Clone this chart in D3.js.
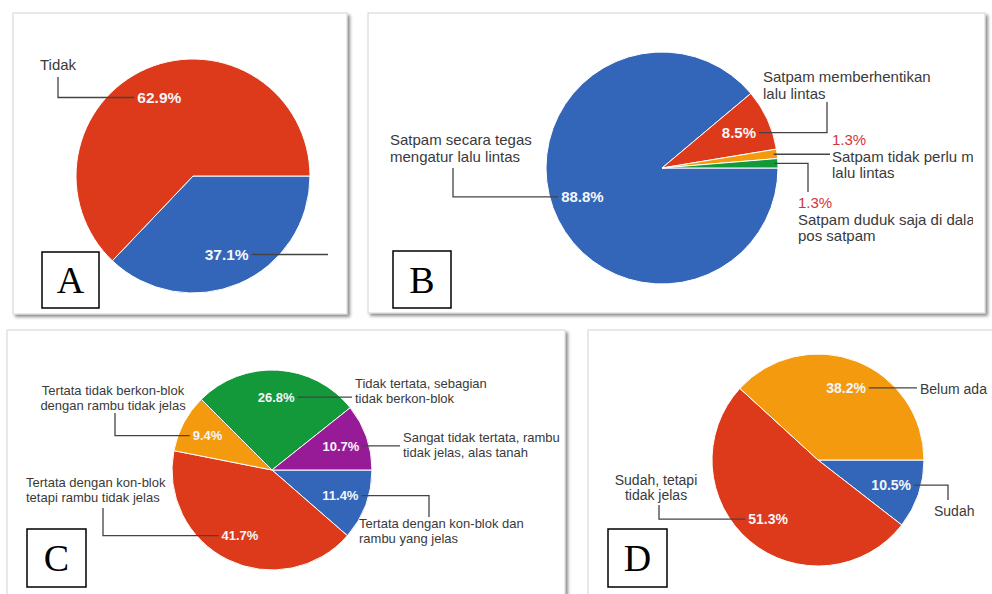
<!DOCTYPE html>
<html>
<head>
<meta charset="utf-8">
<script src="https://cdn.jsdelivr.net/npm/d3@7"></script>
<style>
  body { margin: 0; background: #fff; }
  svg text { font-family: "Liberation Sans", Arial, sans-serif; }
</style>
</head>
<body>
<svg id="chart" width="992" height="594"></svg>
<script>
// ---- Data -------------------------------------------------------------
// A
const aCategories = ["Ya", "Tidak"];
const aValues = [37.1, 62.9];
const aLabelLines = [[], ["Tidak"]];

// B
const bCategories = [
  "Satpam secara tegas mengatur lalu lintas",
  "Satpam memberhentikan lalu lintas",
  "Satpam tidak perlu mengatur lalu lintas",
  "Satpam duduk saja di dalam pos satpam"
];
const bValues = [88.8, 8.5, 1.3, 1.3];
const bLabelLines = [
  ["Satpam secara tegas", "mengatur lalu lintas"],
  ["Satpam memberhentikan", "lalu lintas"],
  ["Satpam tidak perlu mengatur", "lalu lintas"],
  ["Satpam duduk saja di dalam", "pos satpam"]
];

// C
const cCategories = [
  "Tertata dengan kon-blok dan rambu yang jelas",
  "Tertata dengan kon-blok tetapi rambu tidak jelas",
  "Tertata tidak berkon-blok dengan rambu tidak jelas",
  "Tidak tertata, sebagian tidak berkon-blok",
  "Sangat tidak tertata, rambu tidak jelas, alas tanah"
];
const cValues = [11.4, 41.7, 9.4, 26.8, 10.7];
const cLabelLines = [
  ["Tertata dengan kon-blok dan", "rambu yang jelas"],
  ["Tertata dengan kon-blok", "tetapi rambu tidak jelas"],
  ["Tertata tidak berkon-blok", "dengan rambu tidak jelas"],
  ["Tidak tertata, sebagian", "tidak berkon-blok"],
  ["Sangat tidak tertata, rambu", "tidak jelas, alas tanah"]
];

// D
const dCategories = ["Sudah", "Sudah, tetapi tidak jelas", "Belum ada"];
const dValues = [10.5, 51.3, 38.2];
const dLabelLines = [["Sudah"], ["Sudah, tetapi", "tidak jelas"], ["Belum ada"]];

// ---- Styles & layout --------------------------------------------------
const palette = {
  blue: "#3366b8",
  red: "#dc3a1a",
  orange: "#f39a0e",
  green: "#13983a",
  purple: "#971b97"
};
const textColor = "#3a3a3a";
const smallPctColor = "#d2353a";

const panels = [
  {
    id: "A", values: aValues, lines: aLabelLines, colors: ["blue", "red"],
    frame: [13, 13, 334, 301], center: [193, 176], r: 117,
    box: [42, 252, 57, 56], pctSize: 15.5, labelSize: 15, lineGap: 17,
    leaders: [
      { x: 135 },
      { x: -135, y: -99, tx: -153, ty: -106 }
    ]
  },
  {
    id: "B", values: bValues, lines: bLabelLines, colors: ["blue", "red", "orange", "green"],
    frame: [368, 13, 617, 300], center: [662, 168], r: 116, clipRight: 973,
    box: [393, 251, 58, 57], pctSize: 15, labelSize: 15, lineGap: 16.5,
    leaders: [
      { x: -209, y: 0, tx: -272, ty: -23 },
      { x: 165, y: -66, tx: 101, ty: -86 },
      { outside: true, x: 168, tx: 170, ty: -23 },
      { outside: true, x: 146, y: 24, tx: 136, ty: 40 }
    ]
  },
  {
    id: "C", values: cValues, lines: cLabelLines, colors: ["blue", "red", "orange", "green", "purple"],
    frame: [7, 330, 558, 280], center: [272, 470], r: 100,
    box: [27, 529, 59, 58], pctSize: 13, labelSize: 13, lineGap: 14.5,
    leaders: [
      { x: 157, y: 47, tx: 87, ty: 58 },
      { x: -169, y: 38, tx: -246, ty: 17 },
      { x: -157, y: -57, tx: -159, ty: -75, anchor: "middle" },
      { x: 80, tx: 83, ty: -82 },
      { x: 128, tx: 131, ty: -28 }
    ]
  },
  {
    id: "D", values: dValues, lines: dLabelLines, colors: ["blue", "red", "orange"],
    frame: [588, 330, 420, 280], center: [818, 460], r: 106,
    box: [608, 529, 59, 58], pctSize: 14, labelSize: 14, lineGap: 15,
    leaders: [
      { x: 130, y: 40, tx: 116, ty: 56 },
      { x: -159, y: 45, tx: -162, ty: 25, anchor: "middle" },
      { x: 99, tx: 102, ty: -66 }
    ]
  }
];

// ---- Drawing ----------------------------------------------------------
const svg = d3.select("#chart");
const defs = svg.append("defs");
const shadow = defs.append("filter").attr("id", "shadow")
  .attr("x", "-5%").attr("y", "-5%").attr("width", "112%").attr("height", "112%");
shadow.append("feDropShadow")
  .attr("dx", 2.5).attr("dy", 2.5).attr("stdDeviation", 1.8)
  .attr("flood-color", "#000").attr("flood-opacity", 0.45);

const fmt = v => d3.format(".1f")(v) + "%";
const pie = d3.pie().sort(null).startAngle(Math.PI / 2).endAngle(Math.PI / 2 + 2 * Math.PI);

panels.forEach(p => {
  const g = svg.append("g").attr("class", "panel-" + p.id);
  const [fx, fy, fw, fh] = p.frame;

  g.append("rect")
    .attr("x", fx).attr("y", fy).attr("width", fw).attr("height", fh)
    .attr("fill", "#fff").attr("stroke", "#d4d4d4").attr("stroke-width", 1)
    .attr("filter", "url(#shadow)");

  if (p.clipRight) {
    defs.append("clipPath").attr("id", "clip" + p.id)
      .append("rect").attr("x", fx).attr("y", fy).attr("width", p.clipRight - fx).attr("height", fh);
  }
  const content = g.append("g").attr("clip-path", p.clipRight ? `url(#clip${p.id})` : null);
  const pc = content.append("g").attr("transform", `translate(${p.center[0]},${p.center[1]})`);

  const arcs = pie(p.values);
  const arc = d3.arc().innerRadius(0).outerRadius(p.r);
  const pctArc = d3.arc().innerRadius(p.r * 0.73).outerRadius(p.r * 0.73);
  const edgeArc = d3.arc().innerRadius(p.r * 0.97).outerRadius(p.r * 0.97);

  pc.selectAll("path.slice").data(arcs).join("path")
    .attr("class", "slice")
    .attr("d", arc)
    .attr("fill", (d, i) => palette[p.colors[i]])
    .attr("stroke", "#fff").attr("stroke-width", 1);

  arcs.forEach((d, i) => {
    const L = p.leaders[i];
    let sx, sy;
    if (L.outside) {
      [sx, sy] = edgeArc.centroid(d);
    } else {
      const [cx, cy] = pctArc.centroid(d);
      const t = pc.append("text")
        .attr("x", cx).attr("y", cy).attr("dy", "0.36em")
        .attr("text-anchor", "middle")
        .attr("font-size", p.pctSize).attr("font-weight", "bold")
        .attr("fill", "#f6f6fa")
        .text(fmt(d.data));
      const w = t.node().getComputedTextLength();
      sx = L.x > cx ? cx + w / 2 + 3 : cx - w / 2 - 3;
      sy = cy;
    }

    const pts = [[sx, sy], [L.x, sy]];
    if (L.y !== undefined) pts.push([L.x, L.y]);
    pc.append("path")
      .attr("d", d3.line()(pts))
      .attr("fill", "none").attr("stroke", "#444").attr("stroke-width", 1.3);

    const lines = L.outside ? [fmt(d.data)].concat(p.lines[i]) : p.lines[i];
    if (!lines.length) return;
    const txt = pc.append("text")
      .attr("text-anchor", L.anchor || "start")
      .attr("font-size", p.labelSize);
    lines.forEach((s, k) => {
      txt.append("tspan")
        .attr("x", L.tx).attr("y", L.ty + k * p.lineGap)
        .attr("fill", L.outside && k === 0 ? smallPctColor : textColor)
        .text(s);
    });
  });

  // Panel letter box
  const [bx, by, bw, bh] = p.box;
  g.append("rect")
    .attr("x", bx).attr("y", by).attr("width", bw).attr("height", bh)
    .attr("fill", "#fff").attr("stroke", "#000").attr("stroke-width", 1.5);
  g.append("text")
    .attr("x", bx + bw / 2).attr("y", by + bh / 2).attr("dy", "0.35em")
    .attr("text-anchor", "middle")
    .style("font-family", "'Liberation Serif', 'Times New Roman', serif")
    .attr("font-size", 38).attr("fill", "#000")
    .text(p.id);
});
</script>
</body>
</html>
